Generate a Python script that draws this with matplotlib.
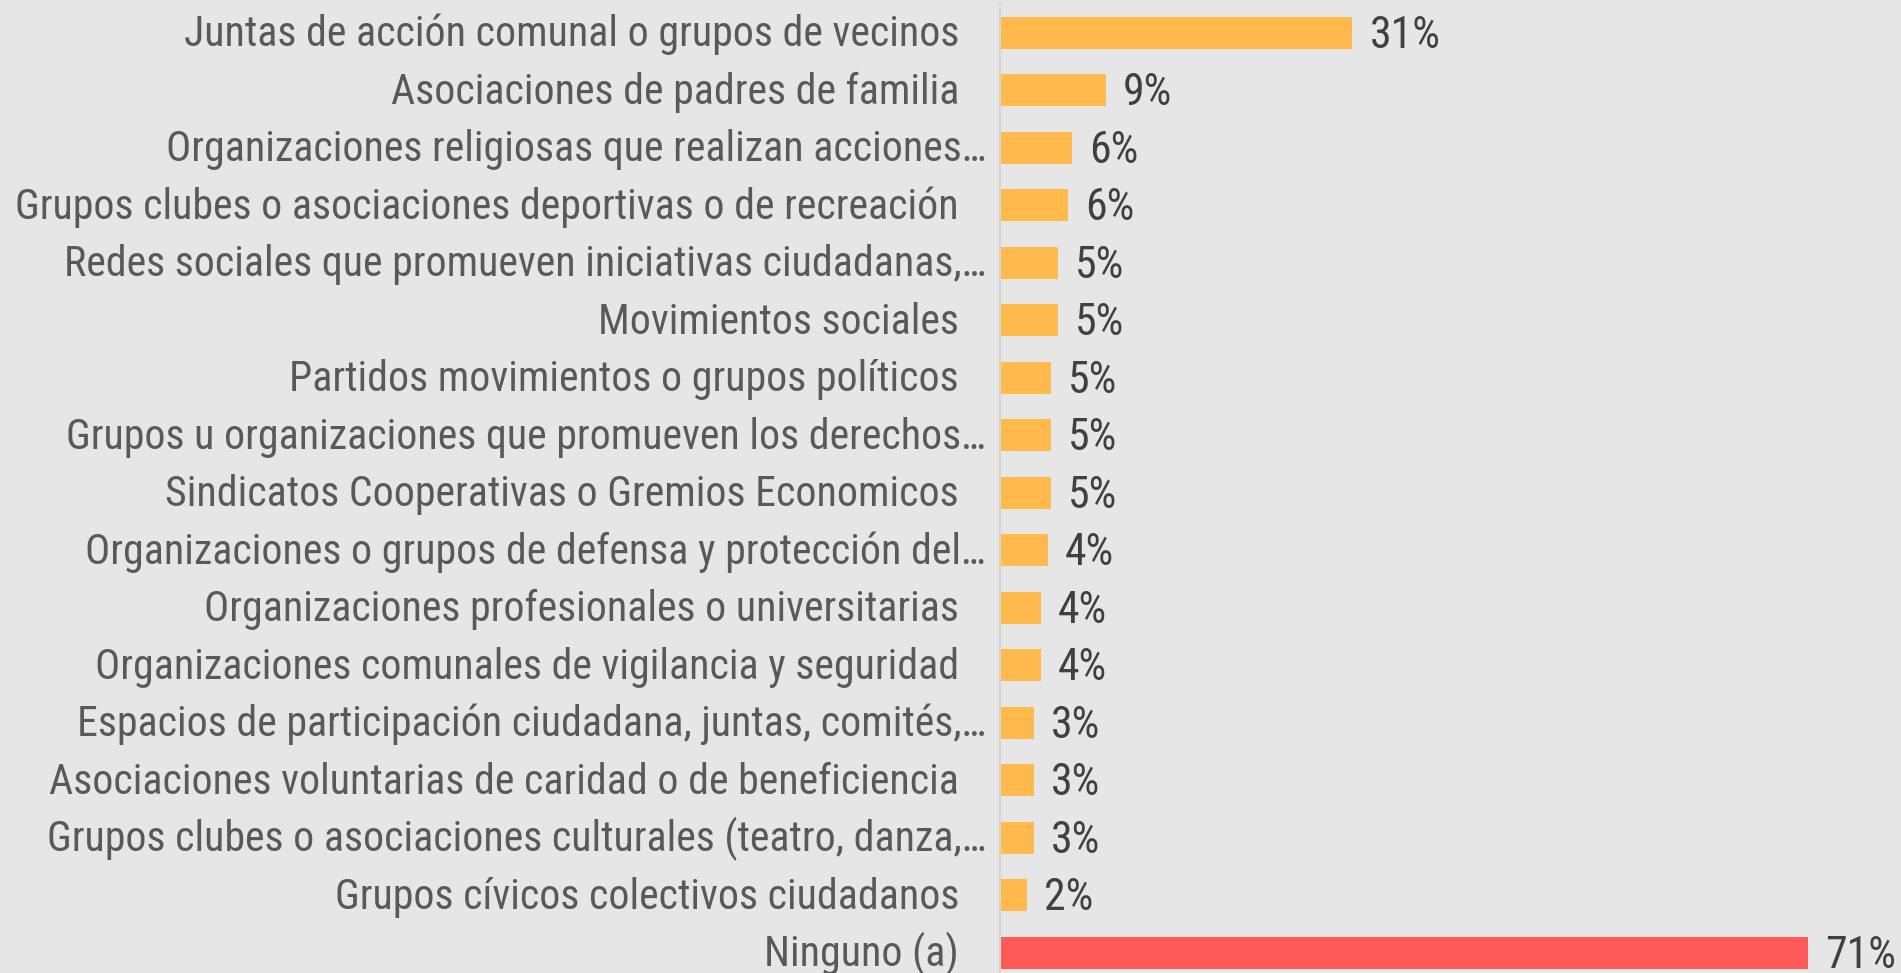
import matplotlib
matplotlib.use("Agg")
import matplotlib.pyplot as plt
import matplotlib.transforms as mtransforms

# categories, values (percent) and shown labels
categorias = [
    "Juntas de acción comunal o grupos de vecinos",
    "Asociaciones de padres de familia",
    "Organizaciones religiosas que realizan acciones…",
    "Grupos clubes o asociaciones deportivas o de recreación",
    "Redes sociales que promueven iniciativas ciudadanas,…",
    "Movimientos sociales",
    "Partidos movimientos o grupos políticos",
    "Grupos u organizaciones que promueven los derechos…",
    "Sindicatos Cooperativas o Gremios Economicos",
    "Organizaciones o grupos de defensa y protección del…",
    "Organizaciones profesionales o universitarias",
    "Organizaciones comunales de vigilancia y seguridad",
    "Espacios de participación ciudadana, juntas, comités,…",
    "Asociaciones voluntarias de caridad o de beneficiencia",
    "Grupos clubes o asociaciones culturales (teatro, danza,…",
    "Grupos cívicos colectivos ciudadanos",
    "Ninguno (a)",
]
valores = [31.0, 9.3, 6.3, 6.0, 5.1, 5.1, 4.5, 4.5, 4.5, 4.2, 3.6, 3.6, 3.0, 3.0, 3.0, 2.35, 71.1]
etiquetas = ["31%", "9%", "6%", "6%", "5%", "5%", "5%", "5%", "5%", "4%", "4%", "4%",
             "3%", "3%", "3%", "2%", "71%"]

BG = "#e6e6e6"
ORANGE = "#ffb94d"
RED = "#ff5a5a"
FONT = ["Roboto Condensed", "DejaVu Sans"]

fig = plt.figure(figsize=(19.01, 9.73), dpi=100, facecolor=BG)
ax = fig.add_axes([1000 / 1901, 0, 901 / 1901, 969 / 973])
ax.set_facecolor(BG)

pos = list(range(len(categorias)))
colores = [RED if c.startswith("Ninguno") else ORANGE for c in categorias]
ax.barh(pos, valores, height=0.556, color=colores, zorder=2)

ax.set_ylim(len(categorias) - 1 + 0.351, -0.5)
ax.set_xlim(0, 901 / 11.37)

for s in ["top", "right", "bottom"]:
    ax.spines[s].set_visible(False)
ax.spines["left"].set_color("#d6d6d6")
ax.spines["left"].set_linewidth(1.5)
ax.set_xticks([])
ax.set_yticks([])

# category labels, baseline a bit below the bar centre
lab_off = mtransforms.ScaledTranslation(0, -13.5 / 100, fig.dpi_scale_trans)
for i, c in enumerate(categorias):
    x = -14 / 901 if c.endswith("…") else -41 / 901
    ax.text(x, i, c, transform=ax.get_yaxis_transform() + lab_off,
            ha="right", va="baseline", fontsize=30.2, family=FONT, color="#595959")

# value labels
val_off = mtransforms.ScaledTranslation(17 / 100, -15 / 100, fig.dpi_scale_trans)
for i, (v, t) in enumerate(zip(valores, etiquetas)):
    ax.text(v, i, t, transform=ax.transData + val_off,
            ha="left", va="baseline", fontsize=31.5, family=FONT, color="#404040")

fig.savefig("out.png", facecolor=BG)
